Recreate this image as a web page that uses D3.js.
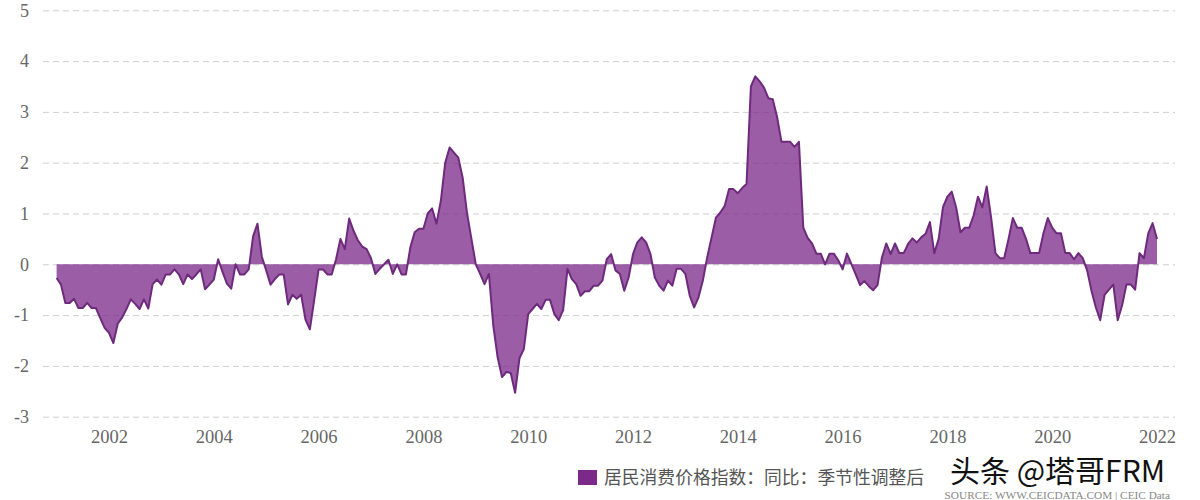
<!DOCTYPE html>
<html>
<head>
<meta charset="utf-8">
<script src="https://cdn.jsdelivr.net/npm/d3@7/dist/d3.min.js"></script>
<style>
  html, body { margin: 0; padding: 0; background: #fff; }
  svg { display: block; }
</style>
</head>
<body>
<svg id="chart" width="1200" height="500"></svg>
<script>
// ---- data (monthly, Jan 2001 .. Jan 2022) ----
const startYear = 2001;
const cpiYoY = [
  -0.27, -0.4, -0.76, -0.76, -0.68, -0.86, -0.86, -0.76, -0.86, -0.86, -1.06, -1.25, // 2001
  -1.35, -1.55, -1.17, -1.05, -0.88, -0.69, -0.78, -0.88, -0.69, -0.87, -0.39, -0.3,  // 2002
  -0.4, -0.2, -0.2, -0.1, -0.2, -0.39, -0.2, -0.29, -0.2, -0.1, -0.49, -0.4,          // 2003
  -0.3, 0.1, -0.15, -0.38, -0.48, 0.0, -0.2, -0.2, -0.1, 0.55, 0.8, 0.15,             // 2004
  -0.12, -0.4, -0.29, -0.2, -0.2, -0.79, -0.6, -0.68, -0.6, -1.09, -1.28, -0.7,       // 2005
  -0.1, -0.1, -0.2, -0.2, 0.1, 0.5, 0.3, 0.9, 0.66, 0.47, 0.35, 0.3,                 // 2006
  0.12, -0.19, -0.09, 0.0, 0.09, -0.19, 0.0, -0.2, -0.2, 0.33, 0.63, 0.7,            // 2007
  0.7, 1.0, 1.1, 0.8, 1.25, 2.0, 2.3, 2.2, 2.1, 1.7, 1.0, 0.5,                       // 2008
  0.0, -0.19, -0.39, -0.19, -1.2, -1.83, -2.22, -2.12, -2.14, -2.53, -1.85, -1.67,   // 2009
  -0.98, -0.88, -0.78, -0.88, -0.7, -0.7, -0.98, -1.1, -0.9, -0.09, -0.29, -0.39,    // 2010
  -0.62, -0.53, -0.53, -0.42, -0.42, -0.32, 0.1, 0.2, -0.12, -0.19, -0.52, -0.26,    // 2011
  0.2, 0.43, 0.53, 0.43, 0.2, -0.26, -0.42, -0.52, -0.32, -0.42, -0.09, -0.09,       // 2012
  -0.19, -0.62, -0.85, -0.65, -0.32, 0.14, 0.53, 0.92, 1.02, 1.15, 1.48, 1.48,       // 2013
  1.4, 1.5, 1.58, 3.5, 3.7, 3.6, 3.48, 3.27, 3.25, 2.9, 2.41, 2.41,                  // 2014
  2.41, 2.31, 2.41, 0.72, 0.52, 0.41, 0.21, 0.21, 0.0, 0.21, 0.21, 0.08,             // 2015
  -0.1, 0.21, 0.01, -0.2, -0.41, -0.33, -0.43, -0.51, -0.41, 0.13, 0.41, 0.2,        // 2016
  0.41, 0.22, 0.22, 0.4, 0.51, 0.43, 0.53, 0.6, 0.83, 0.22, 0.5, 1.13,               // 2017
  1.33, 1.43, 1.12, 0.63, 0.72, 0.72, 0.96, 1.33, 1.12, 1.53, 0.93, 0.22,            // 2018
  0.12, 0.12, 0.5, 0.91, 0.72, 0.72, 0.5, 0.22, 0.22, 0.22, 0.61, 0.91,              // 2019
  0.72, 0.61, 0.61, 0.22, 0.22, 0.1, 0.22, 0.12, -0.12, -0.52, -0.85, -1.1,          // 2020
  -0.6, -0.5, -0.4, -1.1, -0.81, -0.4, -0.4, -0.5, 0.22, 0.12, 0.61, 0.81,           // 2021
  0.5                                                                                 // 2022
];
const xTickYears = [2002, 2004, 2006, 2008, 2010, 2012, 2014, 2016, 2018, 2020, 2022];
const yTicks = [-3, -2, -1, 0, 1, 2, 3, 4, 5];
const seriesName = "居民消费价格指数：同比：季节性调整后";
const watermark = "头条 @塔哥FRM";
const sourceText = "SOURCE: WWW.CEICDATA.COM | CEIC Data";

// ---- layout ----
const svg = d3.select("#chart");
const plotLeft = 43, plotRight = 1175, plotTop = 10.3, plotBottom = 416.7;

const x = d3.scaleLinear()
  .domain([2000.7405, 2022.3435])
  .range([plotLeft, plotRight]);
const y = d3.scaleLinear()
  .domain([-3, 5])
  .range([plotBottom, plotTop]);

const data = cpiYoY.map((v, i) => ({ t: startYear + i / 12, v }));

// grid + y labels
const yAxis = svg.append("g")
  .attr("transform", `translate(${plotLeft},0)`)
  .call(d3.axisLeft(y).tickValues(yTicks).tickSize(-(plotRight - plotLeft)).tickPadding(14).tickFormat(d => String(d)));
yAxis.select(".domain").remove();
yAxis.selectAll(".tick line")
  .attr("stroke", "#cfcfcf")
  .attr("stroke-width", 1)
  .attr("stroke-dasharray", "6,4");
yAxis.selectAll(".tick text")
  .attr("fill", "#666")
  .style("font-family", "'Liberation Serif', 'DejaVu Serif', serif")
  .style("font-size", "18px");

// x labels
const xAxis = svg.append("g")
  .attr("transform", `translate(0,${plotBottom})`)
  .call(d3.axisBottom(x).tickValues(xTickYears).tickSize(0).tickPadding(13.5).tickFormat(d => String(d)));
xAxis.select(".domain").remove();
xAxis.selectAll(".tick text")
  .attr("fill", "#666")
  .style("font-family", "'Liberation Serif', 'DejaVu Serif', serif")
  .style("font-size", "18.5px");

// area + line
const area = d3.area()
  .x(d => x(d.t))
  .y0(y(0))
  .y1(d => y(d.v));
const line = d3.line()
  .x(d => x(d.t))
  .y(d => y(d.v));

svg.append("path")
  .datum(data)
  .attr("d", area)
  .attr("fill", "#7b2a8a")
  .attr("fill-opacity", 0.76);
svg.append("path")
  .datum(data)
  .attr("d", line)
  .attr("fill", "none")
  .attr("stroke", "#6e2a7c")
  .attr("stroke-width", 2)
  .attr("stroke-linejoin", "round");

// legend
const legend = svg.append("g");
legend.append("rect")
  .attr("x", 578).attr("y", 470)
  .attr("width", 19).attr("height", 15)
  .attr("fill", "#7b2a8a");
legend.append("text")
  .attr("x", 604).attr("y", 484)
  .attr("fill", "#555")
  .style("font-family", "'Noto Sans CJK SC', sans-serif")
  .style("font-size", "17.8px")
  .text(seriesName);

// watermark
svg.append("text")
  .attr("x", 950).attr("y", 481.5)
  .attr("fill", "#111")
  .attr("stroke", "#fff")
  .attr("stroke-width", 3)
  .style("paint-order", "stroke")
  .style("font-family", "'Noto Sans CJK SC', sans-serif")
  .style("font-size", "30px")
  .text(watermark);

// source
svg.append("text")
  .attr("x", 1170).attr("y", 498.5)
  .attr("text-anchor", "end")
  .attr("fill", "#888")
  .style("font-family", "'Liberation Serif', serif")
  .style("font-size", "11.3px")
  .text(sourceText);
</script>
</body>
</html>
